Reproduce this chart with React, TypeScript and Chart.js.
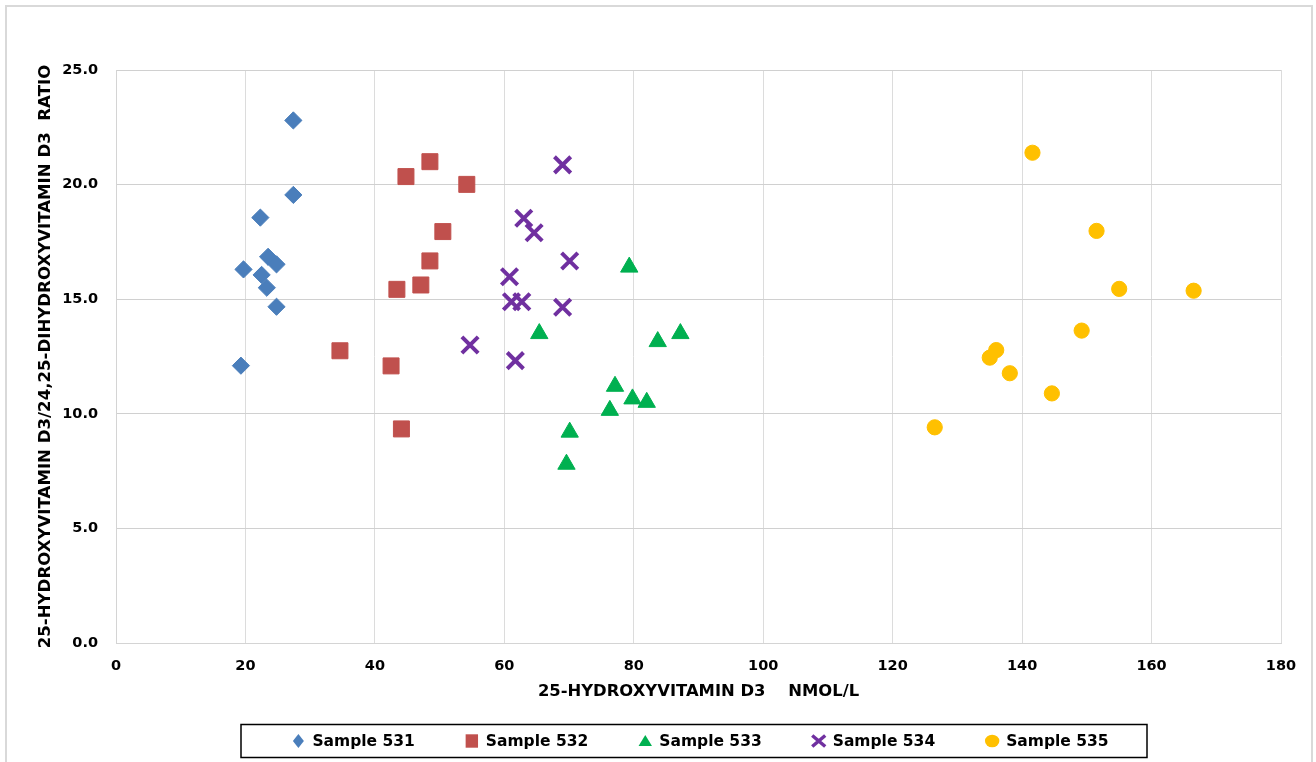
import React, { useEffect, useRef } from 'react';
import { Chart, registerables } from 'chart.js';

Chart.register(...registerables);

// ---- data ----
const seriesNames = ['Sample 531', 'Sample 532', 'Sample 533', 'Sample 534', 'Sample 535'];

const s531X = [27.4, 27.4, 22.3, 23.5, 24.8, 19.7, 22.5, 23.3, 24.8, 19.3];
const s531Y = [22.8, 19.55, 18.56, 16.85, 16.52, 16.3, 16.06, 15.5, 14.67, 12.1];

const s532X = [48.5, 44.8, 54.2, 50.5, 48.5, 47.1, 43.4, 34.6, 42.5, 44.1];
const s532Y = [21.0, 20.35, 20.01, 17.95, 16.67, 15.62, 15.43, 12.75, 12.09, 9.34];

const s533X = [79.3, 65.4, 83.7, 87.2, 77.1, 79.8, 82.0, 76.3, 70.1, 69.6];
const s533Y = [16.4, 13.5, 13.15, 13.5, 11.2, 10.65, 10.5, 10.15, 9.2, 7.8];

const s534X = [69.0, 63.0, 64.6, 70.1, 60.8, 61.1, 62.7, 69.0, 54.7, 61.7];
const s534Y = [20.86, 18.53, 17.9, 16.67, 15.98, 14.89, 14.89, 14.65, 13.0, 12.32];

const s535X = [141.6, 151.5, 155.0, 166.5, 149.2, 136.0, 135.0, 138.1, 144.6, 126.5];
const s535Y = [21.39, 17.98, 15.45, 15.37, 13.63, 12.78, 12.45, 11.77, 10.89, 9.41];

const xMin = 0;
const xMax = 180;
const xStep = 20;
const yMin = 0;
const yMax = 25;
const yStep = 5;

const xTitle = '25-HYDROXYVITAMIN D3    NMOL/L';
const yTitle = '25-HYDROXYVITAMIN D3/24,25-DIHYDROXYVITAMIN D3  RATIO';

const colors = ['#4A7EBB', '#C0504D', '#00B050', '#7030A0', '#FFC000'];
const styles = ['rectRot', 'rect', 'triangle', 'crossRot', 'circle'];
const radii = [8.6, 11.3, 10, 11.5, 7.6];

const xs = [s531X, s532X, s533X, s534X, s535X];
const ys = [s531Y, s532Y, s533Y, s534Y, s535Y];

const FONT = '"DejaVu Sans", Verdana, sans-serif';

function drawLegendMarker(ctx: CanvasRenderingContext2D, style: string, x: number, y: number, color: string) {
  ctx.save();
  ctx.fillStyle = color;
  ctx.strokeStyle = color;
  ctx.beginPath();
  if (style === 'rectRot') {
    ctx.moveTo(x, y - 7);
    ctx.lineTo(x + 5.5, y);
    ctx.lineTo(x, y + 7);
    ctx.lineTo(x - 5.5, y);
    ctx.closePath();
    ctx.fill();
  } else if (style === 'rect') {
    ctx.rect(x - 6.2, y - 6.7, 12.4, 13.4);
    ctx.fill();
  } else if (style === 'triangle') {
    ctx.moveTo(x, y - 6);
    ctx.lineTo(x + 6.7, y + 5);
    ctx.lineTo(x - 6.7, y + 5);
    ctx.closePath();
    ctx.fill();
  } else if (style === 'crossRot') {
    ctx.lineWidth = 3.5;
    ctx.moveTo(x - 6.5, y - 5.5);
    ctx.lineTo(x + 6.5, y + 5.5);
    ctx.moveTo(x + 6.5, y - 5.5);
    ctx.lineTo(x - 6.5, y + 5.5);
    ctx.stroke();
  } else {
    ctx.ellipse(x, y, 7.2, 6.3, 0, 0, Math.PI * 2);
    ctx.fill();
  }
  ctx.restore();
}

const framePlugin = {
  id: 'frameAndLegend',
  beforeDraw(chart: any) {
    const ctx = chart.ctx as CanvasRenderingContext2D;
    ctx.save();
    ctx.fillStyle = '#ffffff';
    ctx.fillRect(0, 0, chart.width, chart.height);
    ctx.strokeStyle = '#d9d9d9';
    ctx.lineWidth = 2;
    ctx.strokeRect(6, 6, chart.width - 10, chart.height + 10);
    ctx.restore();
  },
  afterDraw(chart: any) {
    const ctx = chart.ctx as CanvasRenderingContext2D;
    const area = chart.chartArea;
    const ds = chart.data.datasets;
    ctx.save();
    ctx.font = 'bold 15.5px ' + FONT;
    const markerW = 14;
    const gapText = 7;
    const gapItem = 50;
    const widths = ds.map((d: any) => markerW + gapText + ctx.measureText(d.label).width);
    const total = widths.reduce((a: number, b: number) => a + b, 0) + gapItem * (ds.length - 1);
    const mid = (area.left + area.right) / 2;
    const cy = chart.height - 21;
    ctx.strokeStyle = '#000000';
    ctx.lineWidth = 1.5;
    ctx.strokeRect(mid - 4.5 - 453, cy - 16.5, 906, 33);
    let x = mid + 1.5 - total / 2;
    ds.forEach((d: any, i: number) => {
      drawLegendMarker(ctx, d.pointStyle, x + markerW / 2, cy, d.backgroundColor);
      ctx.fillStyle = '#000000';
      ctx.textBaseline = 'middle';
      ctx.textAlign = 'left';
      ctx.fillText(d.label, x + markerW + gapText, cy + 1);
      x += widths[i] + gapItem;
    });
    ctx.restore();
  },
};

export default function App() {
  const ref = useRef<HTMLCanvasElement | null>(null);

  useEffect(() => {
    document.body.style.margin = '0';
    document.body.style.overflow = 'hidden';
    if (!ref.current) return;
    const datasets = seriesNames.map((name, i) => ({
      label: name,
      data: xs[i].map((x, j) => ({ x, y: ys[i][j] })),
      pointStyle: styles[i],
      pointRadius: radii[i],
      pointHoverRadius: radii[i],
      backgroundColor: colors[i],
      borderColor: colors[i],
      borderWidth: styles[i] === 'crossRot' ? 4 : 1,
      showLine: false,
    }));

    const chart = new Chart(ref.current, {
      type: 'scatter',
      data: { datasets },
      plugins: [framePlugin],
      options: {
        animation: false,
        responsive: false,
        devicePixelRatio: 1,
        layout: { padding: { top: 70, left: 0, right: 35, bottom: 59 } },
        plugins: {
          legend: { display: false },
          tooltip: { enabled: false },
        },
        scales: {
          x: {
            type: 'linear',
            min: xMin,
            max: xMax,
            ticks: {
              stepSize: xStep,
              color: '#000000',
              padding: 15,
              font: { family: FONT, size: 14.5, weight: 'bold' },
            },
            grid: { color: '#dcdcdc', drawTicks: false },
            border: { color: '#d4d4d4' },
            title: {
              display: true,
              text: xTitle,
              color: '#000000',
              font: { family: FONT, size: 16.4, weight: 'bold' },
              padding: { top: 0, bottom: 1.4 },
            },
            afterFit: (s: any) => {
              s.height = 60;
            },
          },
          y: {
            type: 'linear',
            min: yMin,
            max: yMax,
            ticks: {
              stepSize: yStep,
              color: '#000000',
              padding: 18,
              font: { family: FONT, size: 14.5, weight: 'bold' },
              callback: (v: any) => Number(v).toFixed(1),
            },
            grid: { color: '#d0d0d0', drawTicks: false },
            border: { color: '#d4d4d4' },
            title: {
              display: true,
              text: yTitle,
              color: '#000000',
              font: { family: FONT, size: 16.6, weight: 'bold' },
              padding: { top: 36, bottom: 0 },
            },
            afterFit: (s: any) => {
              s.width = 116;
            },
          },
        },
      } as any,
    });
    return () => chart.destroy();
  }, []);

  return (
    <div style={{ width: 1316, height: 762 }}>
      <canvas ref={ref} width={1316} height={762} style={{ display: 'block' }} />
    </div>
  );
}
